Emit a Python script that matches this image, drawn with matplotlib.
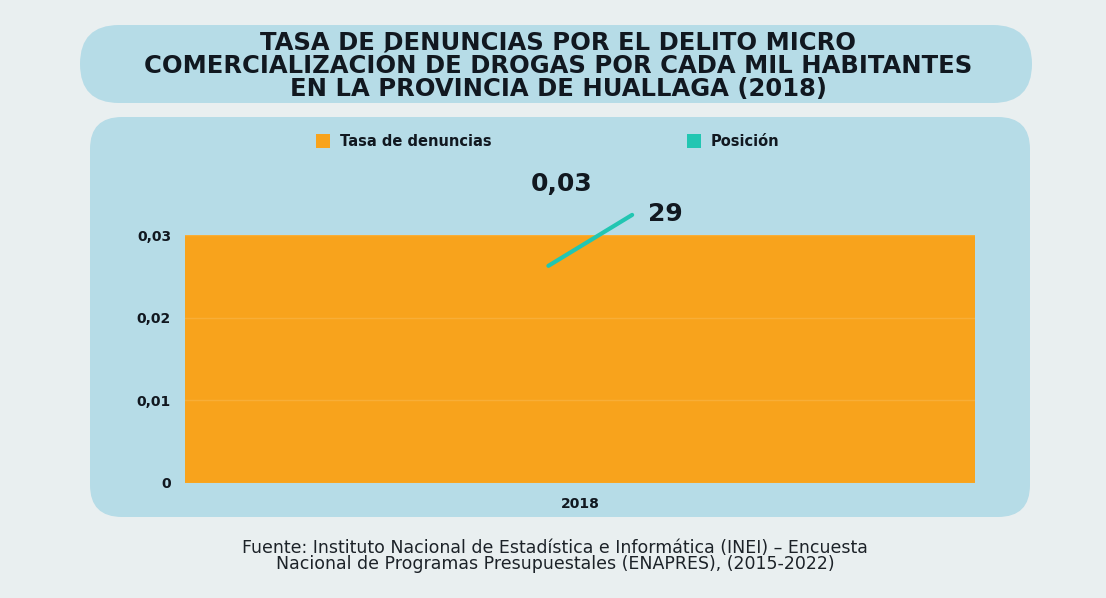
import matplotlib as mpl
mpl.use('Agg')
from matplotlib import pyplot as plt
from matplotlib.patches import FancyBboxPatch, Rectangle

# Data
years = ['2018']
tasa = [0.03]
posicion = [29]
tasa_labels = ['0,03']
y_ticks = [0, 0.01, 0.02, 0.03]
y_tick_labels = ['0', '0,01', '0,02', '0,03']

title = ('TASA DE DENUNCIAS POR EL DELITO MICRO\n'
         'COMERCIALIZACIÓN DE DROGAS POR CADA MIL HABITANTES\n'
         'EN LA PROVINCIA DE HUALLAGA (2018)')
source = ('Fuente: Instituto Nacional de Estadística e Informática (INEI) – Encuesta\n'
          'Nacional de Programas Presupuestales (ENAPRES), (2015-2022)')

BG = '#e9eff0'
BOX = '#b6dce7'
ORANGE = '#f8a31c'
TEAL = '#22c6b2'
DARK = '#111820'
FONT = 'DejaVu Sans'

W, H = 1106, 598
fig = plt.figure(figsize=(W / 100, H / 100), dpi=100, facecolor=BG)


def px_box(x0, y0, x1, y1, r):
    # Rounded box given in pixel coords (top-left origin)
    return FancyBboxPatch(
        (x0 / W, 1 - y1 / H), (x1 - x0) / W, (y1 - y0) / H,
        boxstyle='round,pad=0,rounding_size={}'.format(r / W),
        transform=fig.transFigure, facecolor=BOX, edgecolor='none',
        mutation_aspect=W / H, zorder=-5
    )


fig.patches.append(px_box(80, 25, 1032, 103, 39))
fig.patches.append(px_box(90, 117, 1030, 517, 32))

fig.text(558 / W, 1 - 66 / H, title, ha='center', va='center',
         fontsize=17.5, fontweight='bold', family=FONT, color=DARK,
         linespacing=0.97)

# Main axes
ax = plt.axes([185 / W, 1 - 483 / H, (975 - 185) / W, (483 - 235) / H])
ax.set_facecolor('none')
x = list(range(len(years)))
ax.bar(x, tasa, width=1.0, color=ORANGE, zorder=2)
ax.set_xlim(-0.5, 0.5)
ax.set_ylim(0, 0.03)
ax.set_yticks(y_ticks)
ax.set_yticklabels(y_tick_labels)
ax.set_xticks(x)
ax.set_xticklabels(years)
ax.tick_params(length=0, labelsize=10, colors=DARK, pad=10)
for lbl in ax.get_yticklabels() + ax.get_xticklabels():
    lbl.set_fontweight('bold')
    lbl.set_family(FONT)
for s in ax.spines.values():
    s.set_visible(False)
ax.grid(axis='y', color='#ffffff', alpha=0.12, lw=1, zorder=3)
ax.set_axisbelow(False)

for xi, v, lab in zip(x, tasa, tasa_labels):
    ax.annotate(lab, (xi, v), xytext=(-13, 37), textcoords='offset points',
                ha='center', va='center', fontsize=18, fontweight='bold',
                family=FONT, color=DARK, annotation_clip=False)

# Secondary series: Posición
ax2 = ax.twinx()
ax2.set_ylim(0, posicion[0] * 0.925)
ax2.axis('off')
for xi, p in zip(x, posicion):
    ax2.plot([xi - 0.04, xi + 0.066], [p * 0.81, p], color=TEAL, lw=3,
             solid_capstyle='round', clip_on=False, zorder=4)
    ax2.annotate(str(p), (xi + 0.066, p), xytext=(24, 1), textcoords='offset points',
                 ha='center', va='center', fontsize=18, fontweight='bold',
                 family=FONT, color=DARK, annotation_clip=False)

# Legend
for lx, col, txt in [(316, ORANGE, 'Tasa de denuncias'), (687, TEAL, 'Posición')]:
    fig.patches.append(Rectangle((lx / W, 1 - 148 / H), 14 / W, 14 / H,
                                 transform=fig.transFigure, facecolor=col,
                                 edgecolor='none', zorder=1))
    fig.text((lx + 24) / W, 1 - 141 / H, txt, ha='left', va='center',
             fontsize=10.5, fontweight='bold', family=FONT, color=DARK)

fig.text(555 / W, 1 - 556 / H, source, ha='center', va='center',
         fontsize=12.5, family=FONT, color='#1c2228', linespacing=0.88)

fig.savefig('out.png', dpi=100, facecolor=BG)
